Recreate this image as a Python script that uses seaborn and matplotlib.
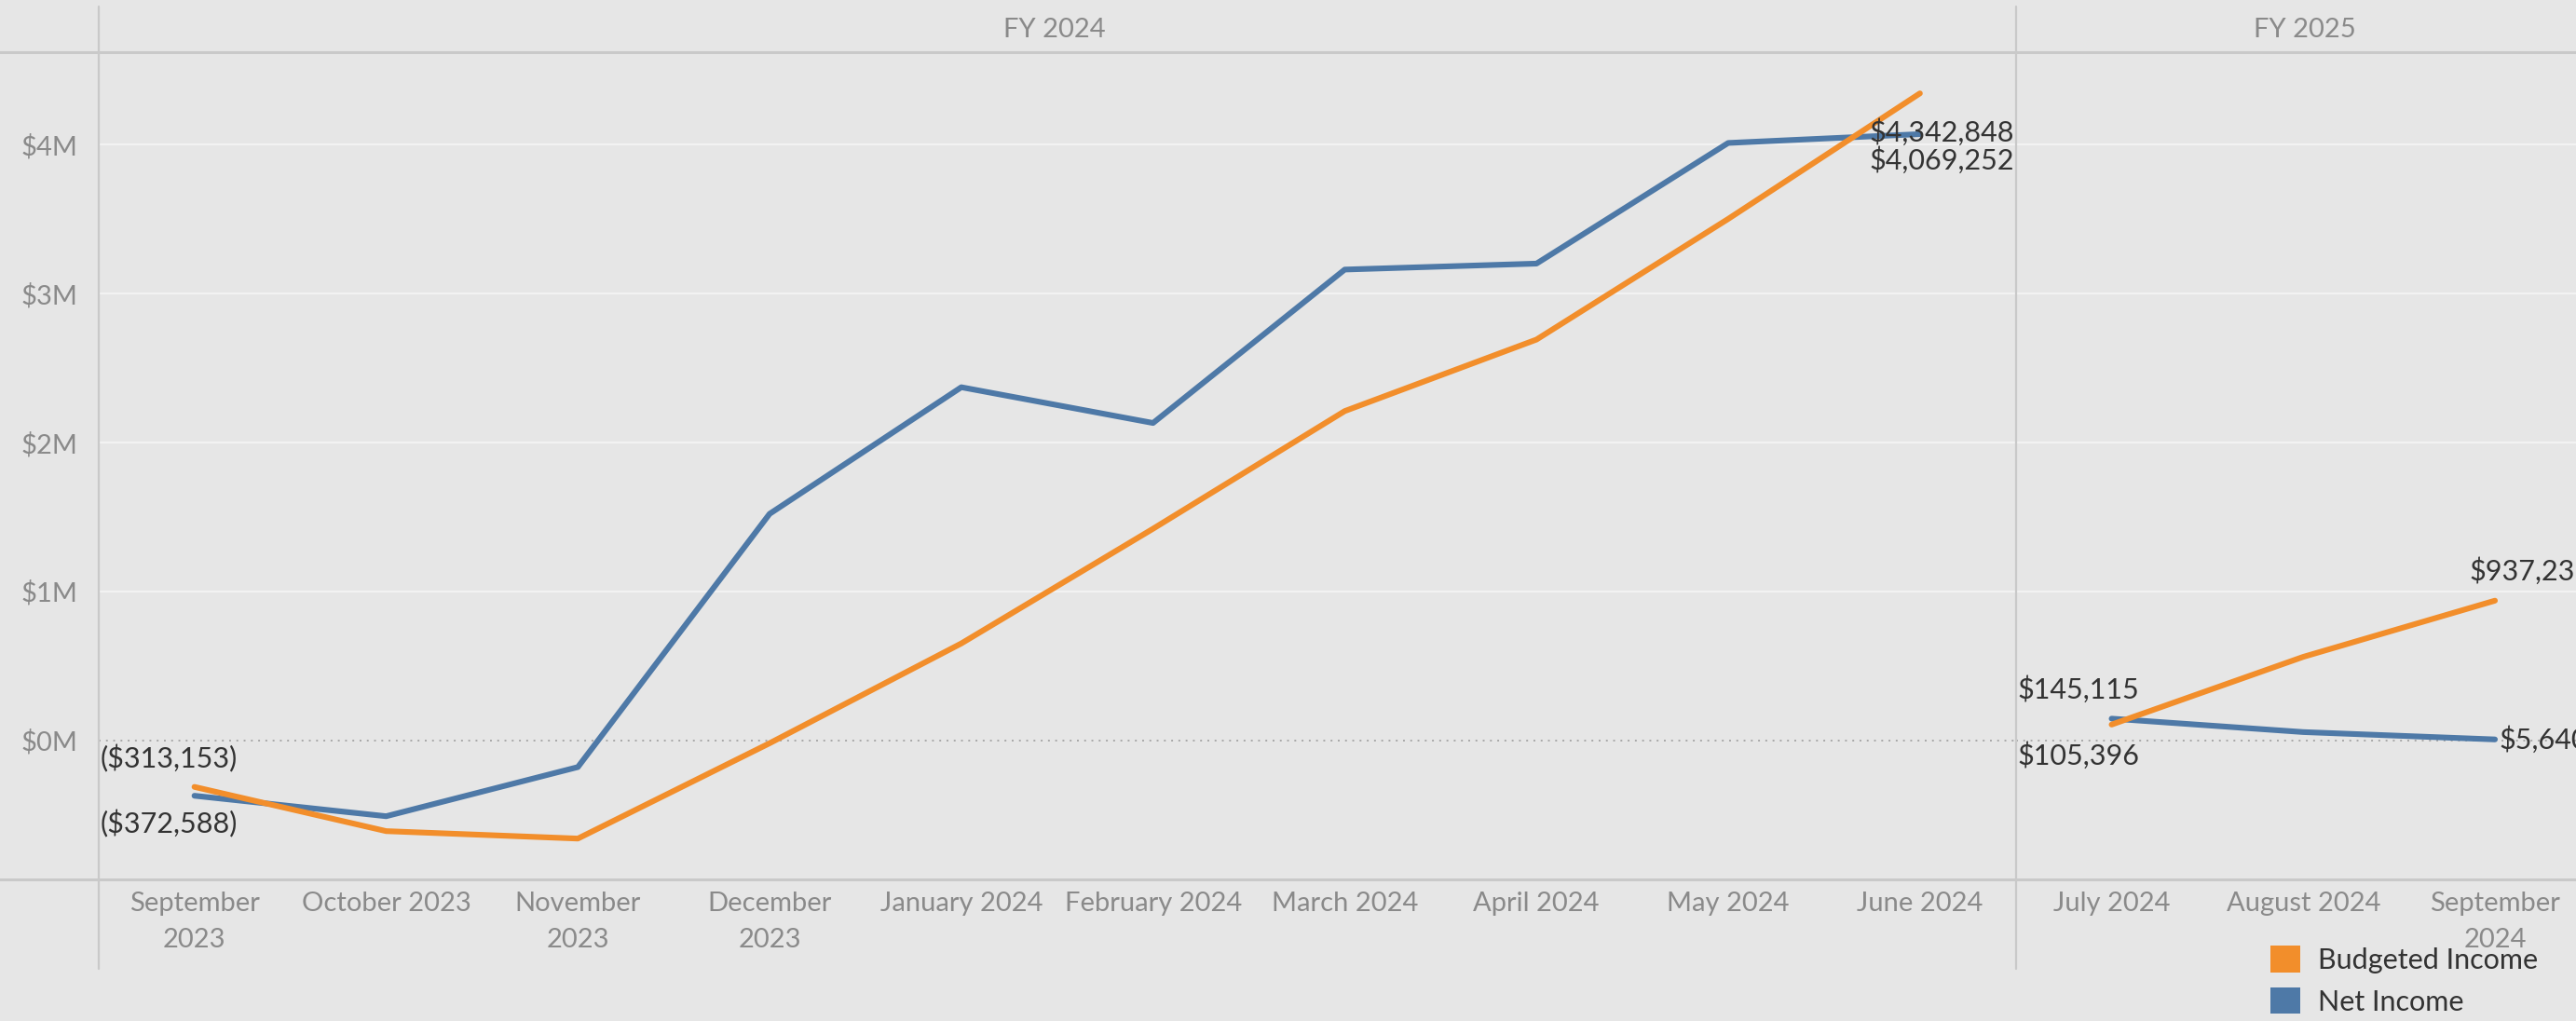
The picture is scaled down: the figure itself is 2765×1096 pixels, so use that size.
import pandas as pd
import matplotlib.pyplot as plt
import seaborn as sns
from matplotlib.lines import Line2D
from matplotlib.patches import Patch

# Données (valeurs mensuelles en $)
months_fy24 = ["September\n2023", "October 2023", "November\n2023", "December\n2023",
               "January 2024", "February 2024", "March 2024", "April 2024",
               "May 2024", "June 2024"]
months_fy25 = ["July 2024", "August 2024", "September\n2024"]

net_fy24 = [-372588, -510000, -180000, 1520000, 2370000, 2130000,
            3160000, 3200000, 4010000, 4069252]
budget_fy24 = [-313153, -610000, -660000, -20000, 650000, 1420000,
               2210000, 2690000, 3500000, 4342848]
net_fy25 = [145115, 55000, 5640]
budget_fy25 = [105396, 560000, 937235]

BG = "#e6e6e6"
ORANGE = "#f28e2b"
BLUE = "#4e79a7"
GREY = "#8a8a8a"
LINE = "#c9c9c9"

sns.set_theme(style="white")
plt.rcParams['font.family'] = ['Lato', 'DejaVu Sans']

W, H = 1568, 622  # repère de la maquette réduite


def fx(x):
    return x / W


def fy(y):
    return 1 - y / H


def fmt(v):
    return f"${v:,.0f}" if v >= 0 else f"(${-v:,.0f})"


def long_df(months, net, budget):
    n = len(months)
    return pd.DataFrame({
        "pos": list(range(n)) * 2,
        "value": net + budget,
        "measure": ["Net Income"] * n + ["Budgeted Income"] * n,
    })


fig = plt.figure(figsize=(27.65, 10.96), dpi=100, facecolor=BG)
ax1 = fig.add_axes([fx(60), fy(536), fx(1227 - 60), (536 - 32) / H])
ax2 = fig.add_axes([fx(1227), fy(536), fx(350), (536 - 32) / H], sharey=ax1)

panels = [(ax1, months_fy24, net_fy24, budget_fy24),
          (ax2, months_fy25, net_fy25, budget_fy25)]

for ax, months, net, budget in panels:
    df = long_df(months, net, budget)
    sns.lineplot(data=df, x="pos", y="value", hue="measure",
                 hue_order=["Net Income", "Budgeted Income"],
                 palette={"Net Income": BLUE, "Budgeted Income": ORANGE},
                 linewidth=4.4, legend=False, ax=ax)
    ax.set_facecolor(BG)
    for s in ax.spines.values():
        s.set_visible(False)
    ax.set_xlim(-0.5, len(months) - 0.5)
    ax.set_xticks(range(len(months)))
    ax.set_xticklabels(months, fontsize=21, color=GREY, linespacing=1.6)
    ax.set_xticks([i + 0.5 for i in range(len(months) - 1)], minor=True)
    ax.tick_params(axis="x", which="major", length=0, pad=9)
    ax.tick_params(axis="x", which="minor", length=6, width=1.5,
                   color="#f7f7f7", direction="out")
    ax.set_xlabel("")
    ax.set_ylabel("")
    ax.yaxis.grid(True, color="#f2f2f2", linewidth=1.6)
    ax.axhline(0, color="#a8a8a8", linewidth=1.4, linestyle=(0, (1, 3)), zorder=1)

ax1.set_ylim(-937000, 4617000)
ax1.set_yticks([0, 1e6, 2e6, 3e6, 4e6])
ax1.set_yticklabels(["$0M", "$1M", "$2M", "$3M", "$4M"], fontsize=21, color=GREY)
ax1.tick_params(axis="y", length=8, width=1.6, color="#f2f2f2", pad=8)
ax2.tick_params(axis="y", left=False, labelleft=False)
for ax in (ax1, ax2):
    ax.get_ygridlines()[0].set_visible(False)

# Étiquettes des valeurs (les deux dernières sont coupées au bord, comme dans l'original)
lab = dict(fontsize=22, color="#333333", textcoords="offset points",
           annotation_clip=False)
ax1.annotate(fmt(budget_fy24[0]), (-0.49, budget_fy24[0]), xytext=(0, 22),
             ha="left", va="center", **lab)
ax1.annotate(fmt(net_fy24[0]), (-0.49, net_fy24[0]), xytext=(0, -22),
             ha="left", va="center", **lab)
ax1.annotate(fmt(budget_fy24[-1]), (9.49, budget_fy24[-1]), xytext=(0, -30),
             ha="right", va="center", **lab)
ax1.annotate(fmt(net_fy24[-1]), (9.49, net_fy24[-1]), xytext=(0, -20),
             ha="right", va="center", **lab)
ax2.annotate(fmt(net_fy25[0]), (-0.49, net_fy25[0]), xytext=(0, 23),
             ha="left", va="center", **lab)
ax2.annotate(fmt(budget_fy25[0]), (-0.49, budget_fy25[0]), xytext=(0, -24),
             ha="left", va="center", **lab)
ax2.annotate(fmt(budget_fy25[-1]), (2, budget_fy25[-1]), xytext=(-20, 23),
             ha="left", va="center", **lab)
ax2.annotate(fmt(net_fy25[-1]), (2, net_fy25[-1]), xytext=(3, 0),
             ha="left", va="center", **lab)

# En-têtes et séparateurs façon Tableau
fig.text(fx(642), fy(18), "FY 2024", fontsize=21, color=GREY, ha="center", va="center")
fig.text(fx(1403), fy(18), "FY 2025", fontsize=21, color=GREY, ha="center", va="center")
for y in (32, 536):
    fig.add_artist(Line2D([0, 1], [fy(y), fy(y)], color=LINE, linewidth=2.2))
for x in (60, 1227):
    fig.add_artist(Line2D([fx(x), fx(x)], [fy(4), fy(590)], color=LINE, linewidth=1.6))

handles = [Patch(facecolor=ORANGE, edgecolor="none"), Patch(facecolor=BLUE, edgecolor="none")]
fig.legend(handles, ["Budgeted Income", "Net Income"], loc="upper left",
           bbox_to_anchor=(fx(1370), fy(564)), frameon=False, fontsize=22,
           handlelength=1.05, handleheight=1.05, handletextpad=0.6,
           labelspacing=0.5, labelcolor="#333333", borderpad=0.2)

plt.savefig("out.png", dpi=100, facecolor=BG)
